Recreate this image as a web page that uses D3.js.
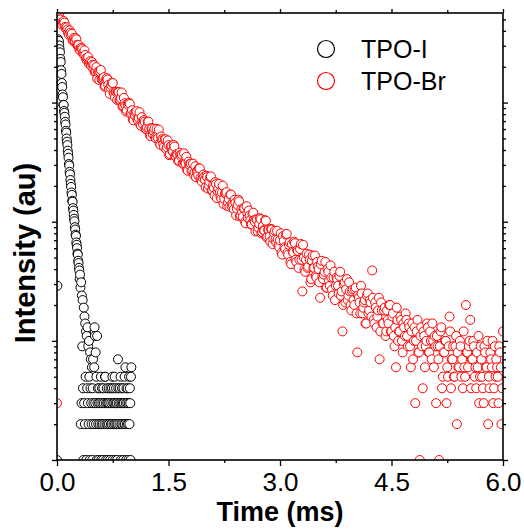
<!DOCTYPE html>
<html><head><meta charset="utf-8">
<script src="https://cdn.jsdelivr.net/npm/d3@7"></script>
<style>
html,body{margin:0;padding:0;background:#fff;}
svg{display:block;font-family:"Liberation Sans",Arial,Helvetica,sans-serif;}
</style>
</head><body>
<svg id="chart" width="524" height="531"></svg>
<script>
// ---------- data ----------
const seriesNames = ["TPO-I", "TPO-Br"];
const seriesColors = ["#000000", "#ff0000"];
const xTickValues = [0, 1.5, 3.0, 4.5, 6.0];
const xTickLabels = ["0.0", "1.5", "3.0", "4.5", "6.0"];
const xMinorTicks = [0.75, 2.25, 3.75, 5.25];
const xAxisTitle = "Time (ms)";
const yAxisTitle = "Intensity (au)";
const xDomain = [0, 6];
const yDomain = [1, 5650];

// TPO-I (black) : time in ms, counts
const blackTime = [
0,0.005,0.01,0.015,0.02,0.025,0.03,0.035,0.04,0.045,0.05,0.055,0.06,0.065,0.07,0.075,0.08,0.085,0.09,0.095,
0.1,0.105,0.11,0.115,0.12,0.125,0.13,0.135,0.14,0.145,0.15,0.155,0.16,0.165,0.17,0.175,0.18,0.185,0.19,0.195,
0.2,0.205,0.21,0.215,0.22,0.225,0.23,0.235,0.24,0.245,0.25,0.255,0.26,0.265,0.27,0.275,0.28,0.285,0.29,0.295,
0.3,0.305,0.31,0.315,0.32,0.325,0.33,0.335,0.34,0.345,0.35,0.355,0.36,0.365,0.37,0.375,0.38,0.385,0.39,0.395,
0.4,0.405,0.41,0.415,0.42,0.425,0.43,0.435,0.44,0.445,0.45,0.455,0.46,0.465,0.47,0.475,0.48,0.485,0.49,0.495,
0.5,0.505,0.51,0.515,0.52,0.525,0.53,0.535,0.54,0.545,0.55,0.555,0.56,0.565,0.57,0.575,0.58,0.585,0.59,0.595,
0.6,0.605,0.61,0.615,0.62,0.625,0.63,0.635,0.64,0.645,0.65,0.655,0.66,0.665,0.67,0.675,0.68,0.685,0.69,0.695,
0.7,0.705,0.71,0.715,0.72,0.725,0.73,0.735,0.74,0.745,0.75,0.755,0.76,0.765,0.77,0.775,0.78,0.785,0.79,0.795,
0.8,0.805,0.81,0.815,0.82,0.825,0.83,0.835,0.84,0.845,0.85,0.855,0.86,0.865,0.87,0.875,0.88,0.885,0.89,0.895,
0.9,0.905,0.91,0.915,0.92,0.925,0.93,0.935,0.94,0.945,0.95,0.955,0.96,0.965,0.97,0.975,0.98,0.985,0.99,0.995,
1.0];
const blackCount = [
1,29,3350,3400,3210,3290,3020,2810,2640,2330,2190,1870,1740,1460,1350,1170,1110,960,955,850,
820,760,690,655,580,560,500,470,440,395,372,345,305,296,262,250,224,208,196,176,
168,150,147,130,124,114,106,101,90,86,78,76,67,64,60,54,53,47,45,41,
39,33,36,28,2,31,3,24,9,22,4,1,19,3,16,2,14,5,12,1,
11,4,13,3,9,2,10,5,1,8,4,7,3,2,6,1,4,7,3,2,
6,13,11,3,8,2,5,1,11,3,4,2,1,3,4,2,0,3,5,1,
2,4,3,2,1,4,3,0,2,5,5,3,1,2,4,3,2,1,3,4,
2,3,0,1,4,2,3,2,4,5,1,3,2,4,3,5,2,1,3,4,
2,3,1,2,7,4,3,0,2,4,3,5,1,2,3,4,2,3,1,4,
3,2,5,2,6,3,1,4,2,3,4,2,1,3,5,2,4,3,1,5,
6];

// TPO-Br (red), even channels : time in ms, counts
const redTime = [0,
0.02,0.04,0.06,0.08,0.10,0.12,0.14,0.16,0.18,0.20,
0.22,0.24,0.26,0.28,0.30,0.32,0.34,0.36,0.38,0.40,
0.42,0.44,0.46,0.48,0.50,0.52,0.54,0.56,0.58,0.60,
0.62,0.64,0.66,0.68,0.70,0.72,0.74,0.76,0.78,0.80,
0.82,0.84,0.86,0.88,0.90,0.92,0.94,0.96,0.98,1.00,
1.02,1.04,1.06,1.08,1.10,1.12,1.14,1.16,1.18,1.20,
1.22,1.24,1.26,1.28,1.30,1.32,1.34,1.36,1.38,1.40,
1.42,1.44,1.46,1.48,1.50,1.52,1.54,1.56,1.58,1.60,
1.62,1.64,1.66,1.68,1.70,1.72,1.74,1.76,1.78,1.80,
1.82,1.84,1.86,1.88,1.90,1.92,1.94,1.96,1.98,2.00,
2.02,2.04,2.06,2.08,2.10,2.12,2.14,2.16,2.18,2.20,
2.22,2.24,2.26,2.28,2.30,2.32,2.34,2.36,2.38,2.40,
2.42,2.44,2.46,2.48,2.50,2.52,2.54,2.56,2.58,2.60,
2.62,2.64,2.66,2.68,2.70,2.72,2.74,2.76,2.78,2.80,
2.82,2.84,2.86,2.88,2.90,2.92,2.94,2.96,2.98,3.00,
3.02,3.04,3.06,3.08,3.10,3.12,3.14,3.16,3.18,3.20,
3.22,3.24,3.26,3.28,3.30,3.32,3.34,3.36,3.38,3.40,
3.42,3.44,3.46,3.48,3.50,3.52,3.54,3.56,3.58,3.60,
3.62,3.64,3.66,3.68,3.70,3.72,3.74,3.76,3.78,3.80,
3.82,3.84,3.86,3.88,3.90,3.92,3.94,3.96,3.98,4.00,
4.02,4.04,4.06,4.08,4.10,4.12,4.14,4.16,4.18,4.20,
4.22,4.24,4.26,4.28,4.30,4.32,4.34,4.36,4.38,4.40,
4.42,4.44,4.46,4.48,4.50,4.52,4.54,4.56,4.58,4.60,
4.62,4.64,4.66,4.68,4.70,4.72,4.74,4.76,4.78,4.80,
4.82,4.84,4.86,4.88,4.90,4.92,4.94,4.96,4.98,5.00,
5.02,5.04,5.06,5.08,5.10,5.12,5.14,5.16,5.18,5.20,
5.22,5.24,5.26,5.28,5.30,5.32,5.34,5.36,5.38,5.40,
5.42,5.44,5.46,5.48,5.50,5.52,5.54,5.56,5.58,5.60,
5.62,5.64,5.66,5.68,5.70,5.72,5.74,5.76,5.78,5.80,
5.82,5.84,5.86,5.88,5.90,5.92,5.94,5.96,5.98,6.00];
const redCount = [3,
5430,4980,4640,4710,4690, 4180,4110,3710,3860,3780,
3360,3320,3400,3010,2800, 2870,2810,2530,2510,2270,
2410,2190,2030,2080,2060, 1830,1590,1800,1810,1570,
1600,1360,1555,1560,1300, 1340,1470,1220,1105,1225,
1230,1045,1085,925,1095, 950,865,955,975,825,
720,820,830,725,740, 655,755,655,690,600,
690,605,523,607,573, 514,601,502,454,519,
482,427,492,421,440, 370,433,387,427,352,
366,324,364,366,307, 312,351,268,304,307,
269,248,292,265,245, 280,223,234,239,195,
237,202,237,183,202, 166,207,180,208,163,
176,141,173,177,145, 134,169,143,127,144,
129,153,111,127,110, 129,97,118,124,103,
95,119,100,105,83, 96,105,82,85,103,
74,85,75,87,65, 80,71,84,63,70,
55,76,61,78,55, 64,46,65,55,66,
46,57,48,65,26, 50,38,54,42,48,
33,52,41,35,46, 40,23,47,33,38,
28,40,32,43,27, 34,22,34,29,35,
24,12,30,21,33, 24,26,18,27,20,
28,8,23,17,25, 19,22,14,25,18,
21,39,15,21,13, 18,7,21,14,18,
11,18,14,20,12, 17,9,6,15,12,
16,10,14,11,15, 9,13,6,14,10,
3,12,8,1,13, 4,11,9,14,8,
12,7,10,11,3, 9,1,12,4,8,
10,3,5,16,4, 7,5,9,2,6,
10,5,4,6,20, 8,9,15,7,10,
5,4,6,3,9, 5,3,8,6,2,
4,7,10,4,5, 6,3,8,2,12];

// TPO-Br (red), odd channels : time in ms, counts
const redTimeOdd = [
0.01,0.03,0.05,0.07,0.09,0.11,0.13,0.15,0.17,0.19,
0.21,0.23,0.25,0.27,0.29,0.31,0.33,0.35,0.37,0.39,
0.41,0.43,0.45,0.47,0.49,0.51,0.53,0.55,0.57,0.59,
0.61,0.63,0.65,0.67,0.69,0.71,0.73,0.75,0.77,0.79,
0.81,0.83,0.85,0.87,0.89,0.91,0.93,0.95,0.97,0.99,
1.01,1.03,1.05,1.07,1.09,1.11,1.13,1.15,1.17,1.19,
1.21,1.23,1.25,1.27,1.29,1.31,1.33,1.35,1.37,1.39,
1.41,1.43,1.45,1.47,1.49,1.51,1.53,1.55,1.57,1.59,
1.61,1.63,1.65,1.67,1.69,1.71,1.73,1.75,1.77,1.79,
1.81,1.83,1.85,1.87,1.89,1.91,1.93,1.95,1.97,1.99,
2.01,2.03,2.05,2.07,2.09,2.11,2.13,2.15,2.17,2.19,
2.21,2.23,2.25,2.27,2.29,2.31,2.33,2.35,2.37,2.39,
2.41,2.43,2.45,2.47,2.49,2.51,2.53,2.55,2.57,2.59,
2.61,2.63,2.65,2.67,2.69,2.71,2.73,2.75,2.77,2.79,
2.81,2.83,2.85,2.87,2.89,2.91,2.93,2.95,2.97,2.99,
3.01,3.03,3.05,3.07,3.09,3.11,3.13,3.15,3.17,3.19,
3.21,3.23,3.25,3.27,3.29,3.31,3.33,3.35,3.37,3.39,
3.41,3.43,3.45,3.47,3.49,3.51,3.53,3.55,3.57,3.59,
3.61,3.63,3.65,3.67,3.69,3.71,3.73,3.75,3.77,3.79,
3.81,3.83,3.85,3.87,3.89,3.91,3.93,3.95,3.97,3.99,
4.01,4.03,4.05,4.07,4.09,4.11,4.13,4.15,4.17,4.19,
4.21,4.23,4.25,4.27,4.29,4.31,4.33,4.35,4.37,4.39,
4.41,4.43,4.45,4.47,4.49,4.51,4.53,4.55,4.57,4.59,
4.61,4.63,4.65,4.67,4.69,4.71,4.73,4.75,4.77,4.79,
4.81,4.83,4.85,4.87,4.89,4.91,4.93,4.95,4.97,4.99,
5.01,5.03,5.05,5.07,5.09,5.11,5.13,5.15,5.17,5.19,
5.21,5.23,5.25,5.27,5.29,5.31,5.33,5.35,5.37,5.39,
5.41,5.43,5.45,5.47,5.49,5.51,5.53,5.55,5.57,5.59,
5.61,5.63,5.65,5.67,5.69,5.71,5.73,5.75,5.77,5.79,
5.81,5.83,5.85,5.87,5.89,5.91,5.93,5.95,5.97,5.99];
const redCountOdd = [
5230,5345,4985,4500,4840,4315,4285,3850,4040,3685,
3305,3495,3480,3060,3040,2745,2880,2605,2745,2350,
2350,2120,2230,2190,1920,1803,1985,1812,1544,1879,
1574,1634,1383,1603,1409,1184,1400,1459,1187,1233,
1053,1221,1049,1216,940,988,841,979,992,804,
863,709,777,848,705,832,639,697,712,602,
617,692,530,609,542,604,502,520,593,442,
493,451,489,405,481,362,431,392,441,357,
370,325,379,353,307,375,307,272,319,297,
266,307,261,236,268,281,233,217,249,225,
243,190,217,240,184,192,215,158,192,177,
156,201,156,173,136,155,169,135,137,153,
113,138,148,113,120,130,100,135,107,113,
95,116,103,83,104,89,107,80,92,84,
102,75,86,68,86,72,84,67,71,61,
80,53,69,59,79,53,67,44,56,68,
48,58,41,59,48,64,40,48,41,53,
31,47,41,52,34,42,31,44,35,36,
46,28,38,29,34,24,38,29,33,25,
38,26,20,31,27,22,31,20,26,22,
27,17,24,21,29,17,21,14,24,17,
22,16,23,14,19,16,23,12,18,14,
19,12,15,20,12,16,11,13,19,10,
12,15,8,13,17,11,14,9,12,7,
13,10,15,8,11,9,12,6,10,13,
8,10,14,6,9,11,7,9,13,5,
8,10,6,9,12,7,9,5,11,8,
6,9,7,12,5,8,6,10,4,7,
9,6,8,11,5,7,4,9,6,10,
5,8,6,3,9,7,5,9,6,4];

// ---------- layout ----------
const plot = {left: 57, right: 503, top: 13, bottom: 460};
const markerR = 4.5;

const svg = d3.select("#chart");
const x = d3.scaleLinear().domain(xDomain).range([plot.left, plot.right]);
const y = d3.scaleLog().domain(yDomain).range([plot.bottom, plot.top]);

svg.append("defs").append("clipPath").attr("id", "plotClip")
  .append("rect")
  .attr("x", plot.left).attr("y", plot.top)
  .attr("width", plot.right - plot.left).attr("height", plot.bottom - plot.top);

function toPoints(ts, cs) {
  const n = Math.min(ts.length, cs.length);
  const out = [];
  for (let i = 0; i < n; i++) if (cs[i] > 0) out.push({t: ts[i], c: cs[i]});
  return out;
}
const redPts = d3.sort(toPoints(redTime, redCount).concat(toPoints(redTimeOdd, redCountOdd)), d => d.t);
const series = [
  {name: seriesNames[1], color: seriesColors[1], pts: redPts},
  {name: seriesNames[0], color: seriesColors[0], pts: toPoints(blackTime, blackCount)}
];

const gPts = svg.append("g").attr("clip-path", "url(#plotClip)");
series.forEach(s => {
  gPts.append("g").selectAll("circle").data(s.pts).join("circle")
    .attr("cx", d => x(d.t)).attr("cy", d => y(d.c)).attr("r", markerR)
    .attr("fill", "#fff").attr("stroke", s.color).attr("stroke-width", 1);
});

// ---------- axes ----------
const yTicks = y.ticks();
const yMajor = yTicks.filter(v => Math.abs(Math.log10(v) - Math.round(Math.log10(v))) < 1e-9);
const yMinor = yTicks.filter(v => !yMajor.includes(v));

function styleAxis(g) {
  g.select(".domain").remove();
  g.selectAll(".tick line").attr("stroke", "#000").attr("stroke-width", 1.3);
}
svg.append("g").attr("transform", `translate(0,${plot.bottom})`)
  .call(d3.axisBottom(x).tickValues(xTickValues).tickFormat((d, i) => xTickLabels[i])
    .tickSizeInner(6).tickSizeOuter(0).tickPadding(7))
  .call(styleAxis)
  .call(g => g.selectAll("text").attr("font-size", 26).attr("fill", "#000")
    .attr("font-family", '"Liberation Sans", Arial, sans-serif'));
svg.append("g").attr("transform", `translate(0,${plot.bottom})`)
  .call(d3.axisBottom(x).tickValues(xMinorTicks).tickFormat("").tickSize(3)).call(styleAxis);
svg.append("g").attr("transform", `translate(0,${plot.top})`)
  .call(d3.axisTop(x).tickValues(xTickValues).tickFormat("").tickSize(4)).call(styleAxis);
svg.append("g").attr("transform", `translate(0,${plot.top})`)
  .call(d3.axisTop(x).tickValues(xMinorTicks).tickFormat("").tickSize(3)).call(styleAxis);
svg.append("g").attr("transform", `translate(${plot.left},0)`)
  .call(d3.axisLeft(y).tickValues(yMajor).tickFormat("").tickSize(5)).call(styleAxis);
svg.append("g").attr("transform", `translate(${plot.left},0)`)
  .call(d3.axisLeft(y).tickValues(yMinor).tickFormat("").tickSize(3)).call(styleAxis);
svg.append("g").attr("transform", `translate(${plot.right},0)`)
  .call(d3.axisRight(y).tickValues(yMajor).tickFormat("").tickSize(5)).call(styleAxis);
svg.append("g").attr("transform", `translate(${plot.right},0)`)
  .call(d3.axisRight(y).tickValues(yMinor).tickFormat("").tickSize(3)).call(styleAxis);

svg.append("rect")
  .attr("x", plot.left).attr("y", plot.top)
  .attr("width", plot.right - plot.left).attr("height", plot.bottom - plot.top)
  .attr("fill", "none").attr("stroke", "#000").attr("stroke-width", 1.6);

svg.append("text").attr("x", (plot.left + plot.right) / 2).attr("y", 521)
  .attr("text-anchor", "middle").attr("font-weight", "bold").attr("font-size", 27)
  .attr("fill", "#000").text(xAxisTitle);
svg.append("text").attr("transform", "translate(35,253) rotate(-90)")
  .attr("text-anchor", "middle").attr("font-weight", "bold").attr("font-size", 29)
  .attr("fill", "#000").text(yAxisTitle);

const legend = svg.append("g");
[0, 1].forEach(i => {
  const cy = 49 + i * 32;
  legend.append("circle").attr("cx", 326).attr("cy", cy).attr("r", 8.5)
    .attr("fill", "#fff").attr("stroke", seriesColors[i]).attr("stroke-width", 1.2);
  legend.append("text").attr("x", 361).attr("y", cy + 8.5)
    .attr("font-size", 25).attr("fill", "#000").text(seriesNames[i]);
});
</script>
</body></html>
